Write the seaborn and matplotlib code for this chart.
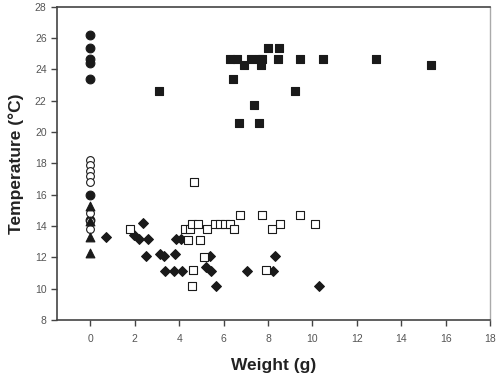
import seaborn as sns
import matplotlib.pyplot as plt
import pandas as pd

sns.set_style("white")
plt.rcParams['font.family'] = ['Liberation Sans', 'DejaVu Sans']

# filled circles
fc_x = [0, 0, 0, 0, 0, 0, 0]
fc_y = [26.2, 25.4, 24.7, 24.4, 23.4, 16.0, 14.4]
# open circles
oc_x = [0, 0, 0, 0, 0, 0, 0, 0]
oc_y = [18.2, 17.9, 17.5, 17.2, 16.8, 14.8, 14.3, 13.8]
# filled triangles
tr_x = [0, 0, 0, 0]
tr_y = [15.3, 14.3, 13.3, 12.3]
# filled diamonds
di_x = [0.7, 1.95, 2.2, 2.37, 2.6, 2.52, 3.12, 3.33, 3.83, 3.87, 4.1, 3.38, 3.75, 4.13,
        5.37, 5.2, 5.45, 5.66, 7.05, 8.3, 8.23, 10.28]
di_y = [13.3, 13.4, 13.2, 14.2, 13.2, 12.1, 12.2, 12.1, 12.2, 13.2, 13.2, 11.1, 11.1, 11.1,
        12.1, 11.4, 11.1, 10.2, 11.1, 12.1, 11.1, 10.2]
# open squares
os_x = [1.8, 4.65, 4.28, 4.5, 4.58, 4.83, 5.25, 5.63, 5.86, 6.08, 6.28, 6.46, 6.73, 4.4,
        4.92, 5.14, 4.63, 4.6, 7.73, 9.46, 8.56, 8.18, 10.14, 7.93]
os_y = [13.8, 16.8, 13.8, 13.8, 14.1, 14.1, 13.8, 14.1, 14.1, 14.1, 14.1, 13.8, 14.7, 13.1,
        13.1, 12.05, 11.2, 10.2, 14.7, 14.7, 14.1, 13.8, 14.1, 11.2]
# filled squares
fs_x = [3.08, 6.27, 6.6, 6.9, 7.25, 7.58, 7.73, 7.69, 8.0, 8.48, 8.45, 9.46, 10.48, 6.41,
        9.23, 7.36, 6.71, 7.6, 12.88, 15.35]
fs_y = [22.6, 24.7, 24.7, 24.3, 24.7, 24.7, 24.7, 24.3, 25.4, 25.4, 24.7, 24.7, 24.7, 23.4,
        22.6, 21.7, 20.6, 20.6, 24.7, 24.3]

groups = [
    (fc_x, fc_y, 'o', '#1a1a1a', 6.3, 0.8),
    (oc_x, oc_y, 'o', 'white', 5.6, 0.8),
    (tr_x, tr_y, '^', '#1a1a1a', 6.3, 0.8),
    (di_x, di_y, 'D', '#1a1a1a', 5.0, 0.8),
    (os_x, os_y, 's', 'white', 5.2, 0.8),
    (fs_x, fs_y, 's', '#1a1a1a', 5.4, 0.8),
]

fig = plt.figure(figsize=(5, 3.8), dpi=100)
ax = fig.add_axes([0.114, 0.158, 0.866, 0.824])

for xs, ys, m, fcol, sz, lw in groups:
    df = pd.DataFrame({'Weight': xs, 'Temperature': ys})
    sns.scatterplot(data=df, x='Weight', y='Temperature', marker=m, s=sz ** 2,
                    facecolor=fcol, edgecolor='#1a1a1a', linewidth=lw, ax=ax, zorder=3)

ax.set_xlim(-1.5, 18)
ax.set_ylim(8, 28)
ax.set_xticks(range(0, 19, 2))
ax.set_yticks(range(8, 29, 2))
ax.tick_params(axis='both', direction='out', length=4, width=1, colors='#444444',
               labelsize=7.5, labelcolor='#555555', left=True, bottom=True)
ax.tick_params(axis='x', pad=6)
for s in ['left', 'bottom', 'top']:
    ax.spines[s].set_color('#444444')
    ax.spines[s].set_linewidth(1.2)
ax.spines['right'].set_color('#aaaaaa')
ax.spines['right'].set_linewidth(1.0)
ax.set_xlabel('Weight (g)', fontsize=12.5, fontweight='bold', color='#222222', labelpad=10)
ax.set_ylabel('Temperature (°C)', fontsize=12.5, fontweight='bold', color='#222222', labelpad=8)

fig.savefig('out.png', dpi=100)
